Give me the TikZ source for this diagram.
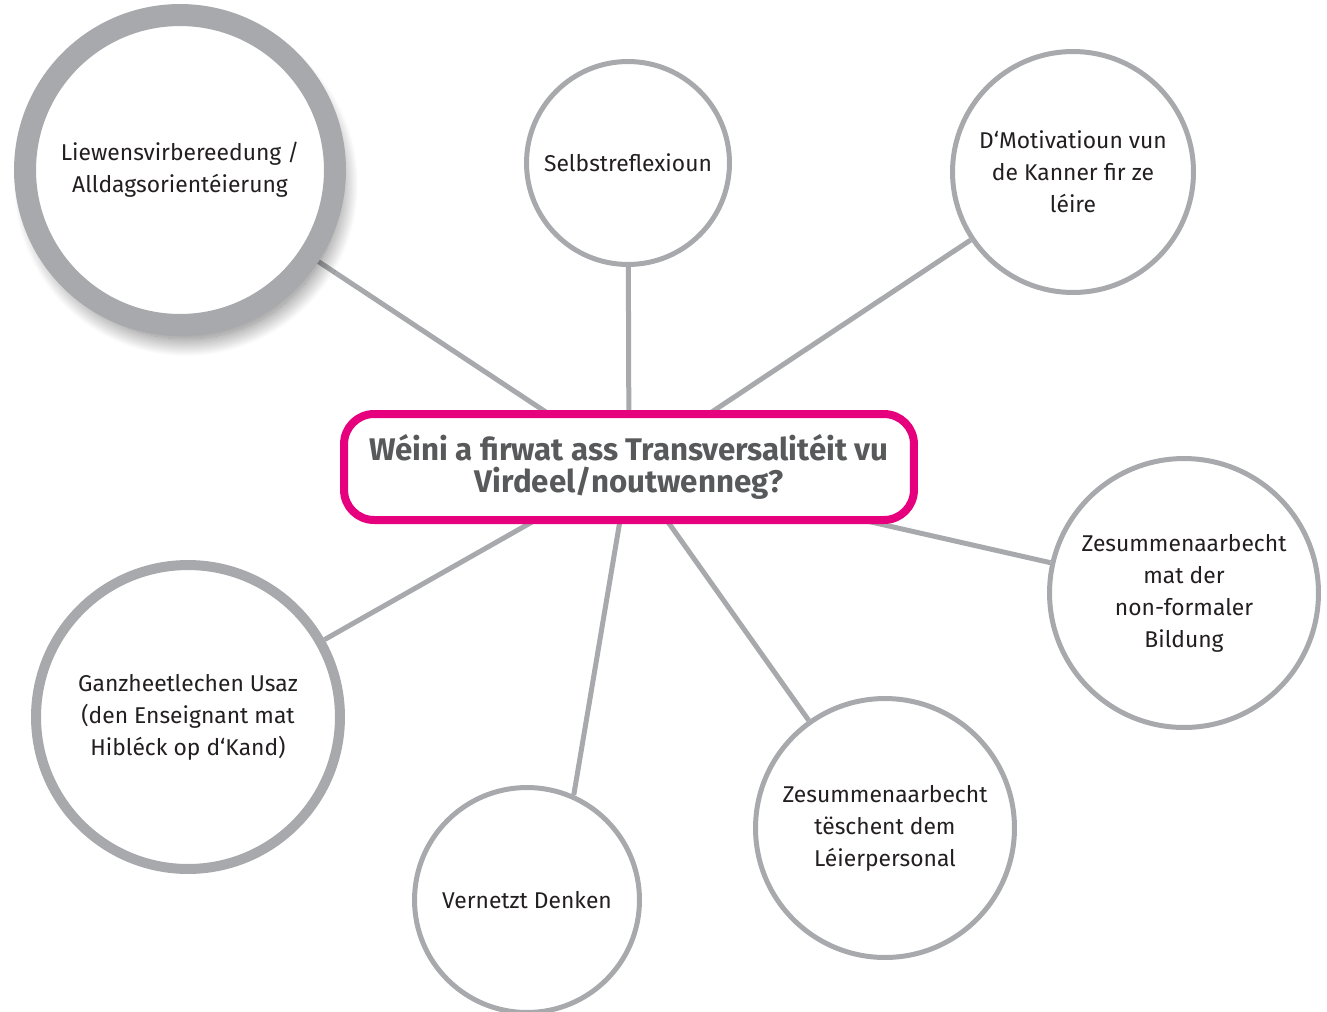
\documentclass[tikz,border=0pt]{standalone}
\usepackage{fontspec}
\setmainfont{Fira Sans}
\usetikzlibrary{shadows.blur}

\definecolor{ringgray}{RGB}{167,169,172}
\definecolor{pinkline}{RGB}{230,0,126}
\definecolor{titlegray}{RGB}{88,89,91}
\definecolor{textblack}{RGB}{35,31,32}

\pgfdeclarelayer{background}
\pgfsetlayers{background,main}

\begin{document}
\begin{tikzpicture}[x=0.02cm, y=-0.02cm]
\tikzset{ bubble/.style={circle, draw=ringgray, line width=0.1cm, fill=white, inner sep=0pt, align=center, text=textblack, font=\fontsize{13}{18.2}\selectfont},
          spoke/.style={ringgray, line width=0.1cm} }

\useasboundingbox (0,0) rectangle (1327,1011);

%\draw [lightgray, dashed](0,0) grid (1327,1011);

\node [rectangle, rounded corners=0.6cm, draw=pinkline, line width=0.16cm, fill=white, minimum width=11.4cm, minimum height=2.12cm, align=center, text=titlegray, font=\bfseries\fontsize{17.8}{17.8}\selectfont] (Q) at (629,467) {Wéini a firwat ass Transversalitéit vu\\Virdeel/noutwenneg?};

\node [bubble, line width=0.44cm, minimum size=6.2cm, blur shadow={shadow xshift=0.12cm, shadow yshift=-0.28cm, shadow blur radius=0.35cm, shadow blur steps=40, shadow opacity=55}] (L) at (180,170) {Liewensvirbereedung /\\Alldagsorientéierung};
\node [bubble, minimum size=4.06cm] (S) at (628,163) {Selbstreflexioun};
\node [bubble, minimum size=4.82cm] (M) at (1073,172) {D‘Motivatioun vun\\de Kanner fir ze\\léire};
\node [bubble, minimum size=5.38cm] (N) at (1184,593) {Zesummenaarbecht\\mat der\\non-formaler\\Bildung};
\node [bubble, minimum size=5.18cm] (P) at (885,828) {Zesummenaarbecht\\tëschent dem\\Léierpersonal};
\node [bubble, minimum size=4.5cm] (V) at (527,900) {Vernetzt Denken};
\node [bubble, line width=0.2cm, minimum size=6.08cm] (G) at (188,717) {Ganzheetlechen Usaz\\(den Enseignant mat\\Hibléck op d‘Kand)};

\begin{pgfonlayer}{background}
\draw [spoke] (L) -- (Q.center);
\draw [spoke] (S) -- (Q.center);
\draw [spoke] (M) -- (Q.center);
\draw [spoke] (N) -- (Q.center);
\draw [spoke] (P) -- (Q.center);
\draw [spoke] (V.66) -- (Q.center);
\draw [spoke] (G) -- (Q.center);
\end{pgfonlayer}

\end{tikzpicture}
\end{document}
